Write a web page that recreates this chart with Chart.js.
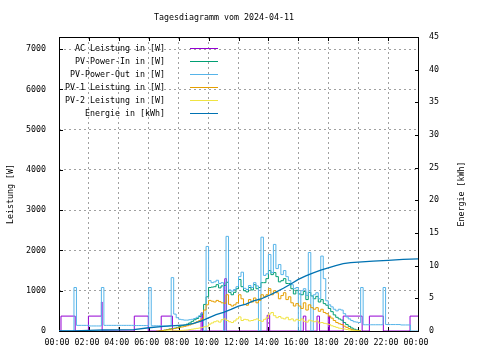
<!DOCTYPE html>
<html>
<head>
<meta charset="utf-8">
<script src="https://cdn.jsdelivr.net/npm/chart.js@4.4.1/dist/chart.umd.min.js"></script>
<style>
  body { margin: 0; background: #fff; }
  canvas { display: block; }
</style>
</head>
<body>
<canvas id="tages-chart" width="480" height="360"></canvas>
<script>
// Tagesdiagramm vom 2024-04-11
// PV-Werte: ein Wert je 10 Minuten ab 00:00 (145 Werte, letzter = 24:00)
const sampleStep = 10;
const xTickLabels = ['00:00','02:00','04:00','06:00','08:00','10:00','12:00','14:00','16:00','18:00','20:00','22:00','00:00'];
const yTickValues = [0,1000,2000,3000,4000,5000,6000,7000];
const y2TickValues = [0,5,10,15,20,25,30,35,40,45];

const pvOut = [
  0,0,0,0,0,0,1080,140,140,140,140,140,
  125,125,125,125,125,1080,140,140,140,140,140,140,
  140,140,140,140,140,140,135,135,135,135,135,135,
  1080,130,130,130,130,125,125,125,130,1325,420,330,
  290,280,270,270,280,290,310,340,380,440,0,2100,
  1250,1200,1220,1260,1180,1200,0,2350,1020,990,1030,1100,
  1350,1460,1060,1030,1130,1080,1200,1120,0,2330,1380,1420,
  1900,1450,2150,1550,1650,1400,1500,1350,1250,1150,1050,1080,
  0,1000,1050,880,1950,0,900,950,800,1860,1300,750,
  650,600,540,500,540,520,430,350,300,260,230,220,
  210,1080,155,155,155,155,155,155,155,155,1080,160,
  160,160,160,160,160,150,150,150,150,0,0,0,
  0
];
const pvIn = [
  null,null,null,null,null,null,null,null,null,null,null,null,
  null,null,null,null,null,null,null,null,null,null,null,null,
  null,null,null,null,null,null,null,null,null,null,null,null,
  null,null,null,null,5,10,20,35,50,60,70,90,
  115,130,150,170,200,240,280,310,360,420,660,850,
  1080,1090,1100,1150,1070,1120,1130,1210,960,900,960,1050,
  1280,1100,1000,970,1080,1020,1150,1050,1080,1200,1200,1300,
  1500,1400,1450,1350,1220,1250,1300,1180,1180,1050,920,1010,
  920,900,980,780,960,870,800,860,720,780,680,640,
  560,480,400,340,300,270,210,160,115,75,45,25,
  12,3,null,null,null,null,null,null,null,null,null,null,
  null,null,null,null,null,null,null,null,null,null,null,null,
  null
];
const pv1 = [
  null,null,null,null,null,null,null,null,null,null,null,null,
  null,null,null,null,null,null,null,null,null,null,null,null,
  null,null,null,null,null,null,null,null,null,null,null,null,
  null,null,null,0,5,10,20,30,40,50,60,75,
  90,100,115,130,150,175,200,230,260,300,520,650,
  760,740,720,760,730,700,690,900,660,620,650,700,
  900,800,660,640,780,720,820,700,760,900,850,900,
  1050,900,1000,950,800,880,950,780,850,700,620,680,
  620,560,700,520,650,580,540,580,490,540,460,430,
  370,320,260,210,180,160,120,90,60,35,20,10,
  5,0,null,null,null,null,null,null,null,null,null,null,
  null,null,null,null,null,null,null,null,null,null,null,null,
  null
];
const pv2 = [
  null,null,null,null,null,null,null,null,null,null,null,null,
  null,null,null,null,null,null,null,null,null,null,null,null,
  null,null,null,null,null,null,null,null,null,null,null,null,
  null,null,null,null,null,null,0,2,3,5,5,8,
  10,15,20,25,35,45,55,65,75,90,105,120,
  170,200,230,250,220,280,300,260,230,210,250,300,
  350,260,290,280,250,260,280,300,260,240,290,330,
  420,460,380,330,360,320,300,340,280,300,250,290,
  260,300,240,220,270,250,230,250,200,210,190,180,
  160,130,110,90,70,60,50,35,25,15,8,3,
  0,0,null,null,null,null,null,null,null,null,null,null,
  null,null,null,null,null,null,null,null,null,null,null,null,
  null
];

// AC Leistung: Schaltzeitpunkte und Werte
const acTimes = ['00:00','00:08','01:05','01:58','02:50','02:53','05:02','05:58','06:50','07:35',
  '09:30','09:36','11:05','11:12','13:55','14:05','16:20','16:30','17:15','17:25',
  '18:00','18:05','19:00','20:16','20:45','21:41','23:28','24:00'];
const acValues = [0,370,0,370,720,0,370,0,370,0,
  450,0,1300,0,390,0,370,0,370,0,
  370,0,370,0,370,0,370,370];

// Energie (kWh), rechte Achse
const energyTimes = ['00:00','01:00','02:00','03:00','04:00','05:00','06:00','07:00','08:00','08:30',
  '09:00','09:30','10:00','10:30','11:00','11:30','12:00','12:30','13:00','13:30',
  '14:00','14:30','15:00','15:30','16:00','16:30','17:00','17:30','18:00','18:30',
  '19:00','19:30','20:00','21:00','22:00','23:00','24:00'];
const energyValues = [0,0.02,0.1,0.15,0.18,0.2,0.5,0.7,0.85,0.95,
  1.15,1.5,2.0,2.5,2.85,3.3,3.8,4.1,4.6,4.9,
  5.4,5.95,6.55,7.2,7.9,8.45,8.9,9.3,9.65,10.0,
  10.3,10.45,10.55,10.7,10.8,10.95,11.05];

const toMin = t => { const [h, m] = t.split(':'); return +h * 60 + +m; };
const slotPoints = vals => vals.map((v, i) => ({ x: i * sampleStep, y: v }));
const stepPoints = (times, vals) => times.map((t, i) => ({ x: toMin(t), y: vals[i] }));
const fixedTicks = values => scale => { scale.ticks = values.map(v => ({ value: v })); };

const monoFont = '"DejaVu Sans Mono", monospace';
Chart.defaults.font.family = monoFont;
Chart.defaults.font.size = 8.3;
Chart.defaults.color = '#000';

// Rahmen, Ticks nach innen, Titel, Achsentitel und Legende wie bei gnuplot
const gnuFrame = {
  id: 'gnuFrame',
  beforeDatasetsDraw(chart) {
    const { ctx, chartArea: { top, bottom, left, right }, scales: { x, y, y1 } } = chart;
    ctx.save();
    ctx.strokeStyle = '#000';
    ctx.lineWidth = 1;
    ctx.strokeRect(left + 0.5, top + 0.5, right - left, bottom - top);
    ctx.beginPath();
    x.ticks.forEach(t => {
      const px = Math.round(x.getPixelForValue(t.value)) + 0.5;
      ctx.moveTo(px, bottom); ctx.lineTo(px, bottom - 4);
      ctx.moveTo(px, top); ctx.lineTo(px, top + 4);
    });
    y.ticks.forEach(t => {
      const py = Math.round(y.getPixelForValue(t.value)) + 0.5;
      ctx.moveTo(left, py); ctx.lineTo(left + 4, py);
    });
    y1.ticks.forEach(t => {
      const py = Math.round(y1.getPixelForValue(t.value)) + 0.5;
      ctx.moveTo(right + 1, py); ctx.lineTo(right - 3, py);
    });
    ctx.stroke();
    ctx.restore();
  },
  afterDraw(chart) {
    const { ctx } = chart;
    ctx.save();
    ctx.font = '8.3px ' + monoFont;
    ctx.fillStyle = '#000';
    ctx.textBaseline = 'middle';
    ctx.textAlign = 'center';
    ctx.fillText('Tagesdiagramm vom 2024-04-11', 224, 18);

    ctx.save();
    ctx.translate(10.5, 194);
    ctx.rotate(-Math.PI / 2);
    ctx.fillText('Leistung [W]', 0, 0);
    ctx.restore();
    ctx.save();
    ctx.translate(461.5, 194);
    ctx.rotate(-Math.PI / 2);
    ctx.fillText('Energie [kWh]', 0, 0);
    ctx.restore();

    // Legende oben links
    ctx.textAlign = 'right';
    chart.data.datasets.forEach((ds, i) => {
      const ly = Math.round(48 + i * 12.9) + 0.5;
      ctx.fillStyle = '#000';
      ctx.fillText(ds.label, 165, ly);
      ctx.strokeStyle = ds.borderColor;
      ctx.lineWidth = 1;
      ctx.beginPath();
      ctx.moveTo(190, ly);
      ctx.lineTo(218, ly);
      ctx.stroke();
    });
    ctx.restore();
  }
};

const lineStyle = { borderWidth: 1, pointRadius: 0, stepped: true, spanGaps: false, fill: false };

let tagesCanvas = document.getElementById('tages-chart').getContext('2d');
let tagesConfig = {
  type: 'line',
  data: {
    datasets: [
      { label: 'AC Leistung in [W]', data: stepPoints(acTimes, acValues), borderColor: '#9400d3', order: 6, yAxisID: 'y', ...lineStyle },
      { label: 'PV-Power-In in [W]', data: slotPoints(pvIn), borderColor: '#009e73', order: 5, yAxisID: 'y', ...lineStyle },
      { label: 'PV-Power-Out in [W]', data: slotPoints(pvOut), borderColor: '#56b4e9', order: 4, yAxisID: 'y', ...lineStyle },
      { label: 'PV-1 Leistung in [W]', data: slotPoints(pv1), borderColor: '#e69f00', order: 3, yAxisID: 'y', ...lineStyle },
      { label: 'PV-2 Leistung in [W]', data: slotPoints(pv2), borderColor: '#f0e442', order: 2, yAxisID: 'y', ...lineStyle },
      { label: 'Energie in [kWh]', data: stepPoints(energyTimes, energyValues), borderColor: '#0072b2', order: 1, yAxisID: 'y1',
        borderWidth: 1.3, pointRadius: 0, stepped: false, tension: 0, fill: false }
    ]
  },
  options: {
    responsive: false,
    animation: false,
    devicePixelRatio: 1,
    layout: { padding: { top: 37, left: 0, right: 0, bottom: 0 } },
    plugins: {
      legend: { display: false },
      title: { display: false },
      tooltip: { enabled: false }
    },
    scales: {
      x: {
        type: 'linear',
        min: 0,
        max: 1440,
        afterFit: s => { s.height = 29; },
        afterBuildTicks: fixedTicks(xTickLabels.map((l, i) => i * 120)),
        ticks: {
          autoSkip: false,
          maxRotation: 0,
          padding: 7,
          labelOffset: -2,
          callback: (value) => xTickLabels[Math.round(value / 120)]
        },
        grid: { color: '#a0a0a0', drawTicks: false },
        border: { display: false, dash: [2, 3] }
      },
      y: {
        position: 'left',
        min: 0,
        max: 7300,
        afterFit: s => { s.width = 59; },
        afterBuildTicks: fixedTicks(yTickValues),
        ticks: { padding: 13, callback: (value) => String(value) },
        grid: { color: '#a0a0a0', drawTicks: false },
        border: { display: false, dash: [2, 3] }
      },
      y1: {
        position: 'right',
        min: 0,
        max: 45,
        afterFit: s => { s.width = 62; },
        afterBuildTicks: fixedTicks(y2TickValues),
        ticks: { padding: 11, callback: (value) => String(value) },
        grid: { display: false, drawTicks: false },
        border: { display: false }
      }
    }
  },
  plugins: [gnuFrame]
};
let tagesChart = new Chart(tagesCanvas, tagesConfig);
</script>
</body>
</html>
